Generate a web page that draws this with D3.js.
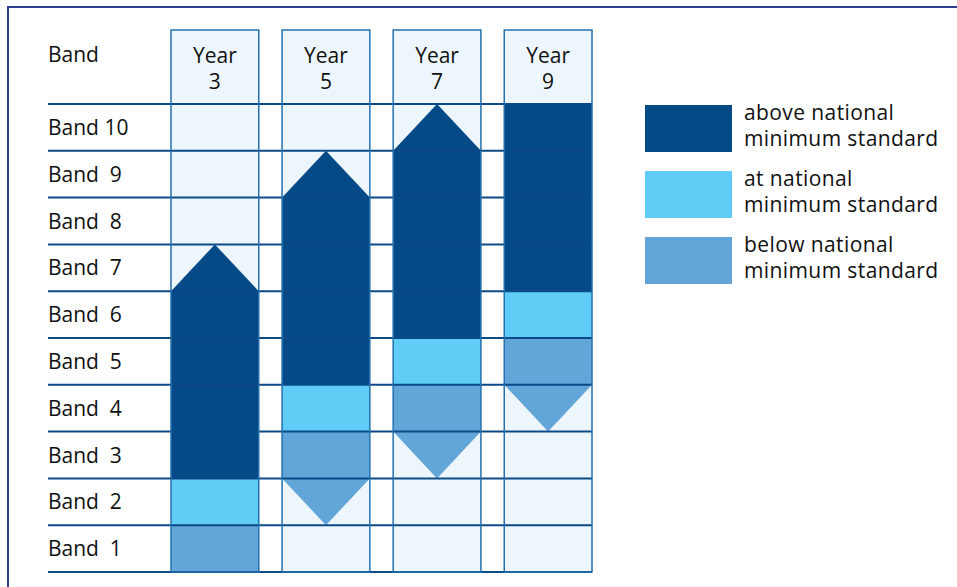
<!DOCTYPE html>
<html>
<head>
<meta charset="utf-8">
<script src="https://cdn.jsdelivr.net/npm/d3@7"></script>
<style>
  html, body { margin: 0; padding: 0; background: #fff; }
  svg { display: block; }
  text { font-family: "Open Sans", "Liberation Sans", Arial, sans-serif; fill: #111; white-space: pre; }
</style>
</head>
<body>
<svg id="chart" width="957" height="587"></svg>
<script>
// ---- data ----
const years = ["3", "5", "7", "9"];
const bandLabels = ["Band  1", "Band  2", "Band  3", "Band  4", "Band  5", "Band  6", "Band  7", "Band  8", "Band  9", "Band 10"];
const belowBand = [1, 3, 4, 5];          // band at "below national minimum standard"
const atBand = [2, 4, 5, 6];             // band at "at national minimum standard"
const aboveFrom = [3, 5, 6, 7];          // lowest band "above national minimum standard"
const aboveTo = [6, 8, 9, 10];           // highest band (solid)
const arrowUp = [true, true, true, false];
const arrowDown = [false, true, true, true];
const legendLabels = [
  ["above national", "minimum standard"],
  ["at national", "minimum standard"],
  ["below national", "minimum standard"]
];
const colors = { above: "#034a86", at: "#5fcdf5", below: "#62a5d9" };
const legendColors = [colors.above, colors.at, colors.below];

// ---- layout ----
const svg = d3.select("#chart");
const x = d3.scaleBand().domain(years).range([171, 592]).paddingInner(0.21).paddingOuter(0);
const y = d3.scaleLinear().domain([0, 10]).range([572, 104]);
const bw = x.bandwidth();
const headerTop = 30;

// frame (top and left)
svg.append("line").attr("x1", 8).attr("x2", 957).attr("y1", 7).attr("y2", 7)
  .attr("stroke", "#2b3d8c").attr("stroke-width", 2);
svg.append("line").attr("x1", 8).attr("x2", 8).attr("y1", 6).attr("y2", 587)
  .attr("stroke", "#2b3d8c").attr("stroke-width", 2);

// column backgrounds
svg.selectAll("rect.colbg").data(years).join("rect")
  .attr("class", "colbg")
  .attr("x", d => x(d)).attr("y", headerTop)
  .attr("width", bw).attr("height", y(0) - headerTop)
  .attr("fill", "#eef6fd");

// bars
const g = svg.append("g");
years.forEach((yr, i) => {
  const x0 = x(yr), cx = x0 + bw / 2;
  // below
  g.append("rect").attr("x", x0).attr("width", bw)
    .attr("y", y(belowBand[i])).attr("height", y(belowBand[i] - 1) - y(belowBand[i]))
    .attr("fill", colors.below);
  if (arrowDown[i]) {
    const yt = y(belowBand[i] - 1), yb = y(belowBand[i] - 2);
    g.append("path").attr("d", `M${x0},${yt}L${x0 + bw},${yt}L${cx},${yb}Z`).attr("fill", colors.below);
  }
  // at
  g.append("rect").attr("x", x0).attr("width", bw)
    .attr("y", y(atBand[i])).attr("height", y(atBand[i] - 1) - y(atBand[i]))
    .attr("fill", colors.at);
  // above
  g.append("rect").attr("x", x0).attr("width", bw)
    .attr("y", y(aboveTo[i])).attr("height", y(aboveFrom[i] - 1) - y(aboveTo[i]))
    .attr("fill", colors.above);
  if (arrowUp[i]) {
    const yb = y(aboveTo[i]), yt = y(aboveTo[i] + 1);
    g.append("path").attr("d", `M${x0},${yb}L${x0 + bw},${yb}L${cx},${yt}Z`).attr("fill", colors.above);
  }
});

// row lines
svg.selectAll("line.row").data(d3.range(0, 11)).join("line")
  .attr("class", "row")
  .attr("x1", 48).attr("x2", 592)
  .attr("y1", d => y(d)).attr("y2", d => y(d))
  .attr("stroke", "#0b4a86").attr("stroke-width", 2);

// column outlines
svg.selectAll("rect.colout").data(years).join("rect")
  .attr("class", "colout")
  .attr("x", d => x(d)).attr("y", headerTop)
  .attr("width", bw).attr("height", y(0) - headerTop)
  .attr("fill", "none").attr("stroke", "#2470ae").attr("stroke-width", 1.5);

// header texts
const fs = 21;
svg.append("text").attr("x", 48).attr("y", 62).attr("font-size", fs).text("Band");
years.forEach(yr => {
  const cx = x(yr) + bw / 2;
  svg.append("text").attr("x", cx).attr("y", 63).attr("text-anchor", "middle").attr("font-size", fs).text("Year");
  svg.append("text").attr("x", cx).attr("y", 88.5).attr("text-anchor", "middle").attr("font-size", fs).text(yr);
});

// band labels
svg.selectAll("text.band").data(bandLabels).join("text")
  .attr("class", "band")
  .attr("x", 48)
  .attr("y", (d, i) => (y(i) + y(i + 1)) / 2 + 7.5)
  .attr("font-size", fs)
  .text(d => d);

// legend
const lg = svg.append("g");
legendLabels.forEach((lines, i) => {
  const top = 105 + i * 66;
  lg.append("rect").attr("x", 645).attr("y", top).attr("width", 87).attr("height", 47).attr("fill", legendColors[i]);
  lines.forEach((t, j) => {
    lg.append("text").attr("x", 744).attr("y", top + 15 + j * 26)
      .attr("font-size", fs).attr("letter-spacing", 0.4).text(t);
  });
});
</script>
</body>
</html>
